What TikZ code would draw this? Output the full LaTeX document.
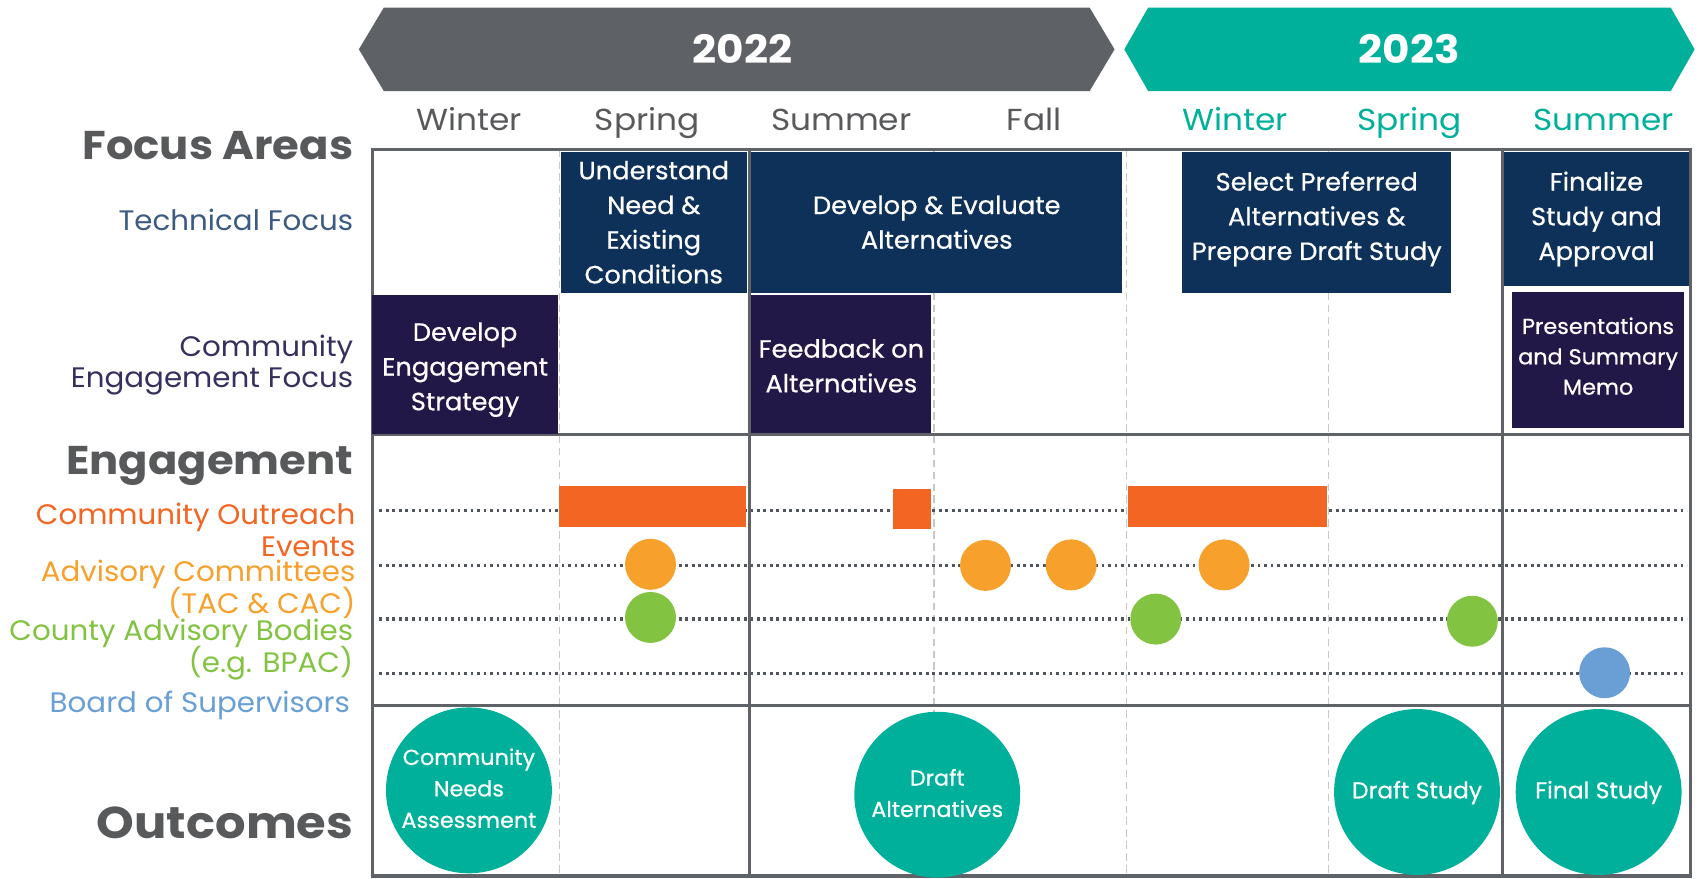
\documentclass[tikz,border=0pt]{standalone}
\usepackage{fontspec}
\setmainfont{Poppins}[FakeStretch=1.04]
\newfontfamily\medfont{Poppins}[FakeBold=0.6, FakeStretch=1.03]
\newfontfamily\widefont{Poppins}[FakeStretch=1.08]
\usetikzlibrary{shapes.geometric}
\definecolor{cgray}{HTML}{5E6166}
\definecolor{cteal}{HTML}{00B09B}
\definecolor{cnavy}{HTML}{0E3159}
\definecolor{cpurple}{HTML}{221848}
\definecolor{cgrid}{HTML}{5F6368}
\definecolor{cdash}{HTML}{C8C8C8}
\definecolor{cdot}{HTML}{50555B}
\definecolor{clabel}{HTML}{58595B}
\definecolor{ctech}{HTML}{3B5B82}
\definecolor{ccomm}{HTML}{35305E}
\definecolor{cout}{HTML}{F26522}
\definecolor{cadv}{HTML}{F7A12C}
\definecolor{cgreen}{HTML}{82C341}
\definecolor{cblue}{HTML}{6A9FD6}
\begin{document}
\begin{tikzpicture}[x=1pt,y=-1pt,
  yr/.style={font=\widefont\fontsize{36pt}{40pt}\selectfont\bfseries, text=white},
  season/.style={font=\widefont\fontsize{28pt}{32pt}\selectfont, anchor=base, inner sep=0pt},
  head/.style={font=\widefont\fontsize{37pt}{40pt}\selectfont\bfseries, text=clabel, anchor=base east, inner sep=0pt},
  lab/.style={font=\fontsize{26pt}{30pt}\selectfont, anchor=base east, inner sep=0pt},
  tbox/.style={fill=cnavy, text=white, align=center, inner sep=0pt, font=\medfont\fontsize{23pt}{32pt}\selectfont},
  cbox/.style={tbox, fill=cpurple},
  evbar/.style={fill=cout, inner sep=0pt},
  evdot/.style={circle, minimum size=47pt, inner sep=0pt},
  outc/.style={ellipse, fill=cteal, inner sep=0pt, minimum width=153pt, minimum height=153pt},
  otext/.style={text=white, align=center, inner sep=0pt, font=\medfont\fontsize{20pt}{29pt}\selectfont},
  gridline/.style={draw=cgrid, line width=3pt},
  vdash/.style={draw=cdash, line width=1.2pt, dash pattern=on 7pt off 4pt},
  rowdots/.style={draw=cdot, line width=3.2pt, dash pattern=on 2.6pt off 3.4pt},
]
\useasboundingbox (0,0) rectangle (1568,810);

% year banners
\fill[cgray] (331,45.5) -- (354,7) -- (1005,7) -- (1028,45.5) -- (1005,84) -- (354,84) -- cycle;
\node[yr] (y22) at (685,45.5) {2022};
\fill[cteal] (1037,45.5) -- (1059,7) -- (1541,7) -- (1563,45.5) -- (1541,84) -- (1059,84) -- cycle;
\node[yr] (y23) at (1300,45.5) {2023};

% seasons
\node[season, text=clabel] (s1) at (433,120) {Winter};
\node[season, text=clabel] (s2) at (597,120) {Spring};
\node[season, text=clabel] (s3) at (776,120) {Summer};
\node[season, text=clabel] (s4) at (954,120) {Fall};
\node[season, text=cteal] (s5) at (1139,120) {Winter};
\node[season, text=cteal] (s6) at (1300,120) {Spring};
\node[season, text=cteal] (s7) at (1479,120) {Summer};

% left labels
\node[head] (fa) at (326,147.5) {Focus Areas};
\node[lab, text=ctech] (tf) at (326,213) {Technical Focus};
\node[lab, text=ccomm] (cf1) at (326,328.5) {Community};
\node[lab, text=ccomm] (cf2) at (326,357) {Engagement Focus};
\node[head] (en) at (326,438) {Engagement};
\node[lab, text=cout] (co1) at (328,483.5) {Community Outreach};
\node[lab, text=cout] (co2) at (328,513) {Events};
\node[lab, text=cadv] (ac1) at (328,536) {Advisory Committees};
\node[lab, text=cadv] (ac2) at (328,566) {(TAC \& CAC)};
\node[lab, text=cgreen] (cb1) at (326,591) {County Advisory Bodies};
\node[lab, text=cgreen] (cb2) at (326,620) {(e.g. BPAC)};
\node[lab, text=cblue] (bs) at (323,657) {Board of Supervisors};
\node[head, font=\widefont\fontsize{41pt}{44pt}\selectfont\bfseries] (oc) at (326,773) {Outcomes};

% vertical dashed season lines
\foreach \x in {516,861.5,1039,1225.5} \draw[vdash] (\x,138) -- (\x,808);

% dotted engagement rows
\foreach \y/\n in {471/r1,521.5/r2,571/r3,621/r4} {
  \coordinate (\n a) at (350,\y);
  \coordinate (\n b) at (1556,\y);
  \draw[rowdots] (\n a) -- (\n b);
}

% solid grid
\foreach \y in {138,401,651,808} \draw[gridline] (342,\y) -- (1560.5,\y);
\foreach \x in {343.5,691,1385.5,1559} \draw[gridline] (\x,138) -- (\x,808);

% technical focus boxes
\node[tbox, minimum width=172pt, minimum height=130pt] (und) at (603,205) {Understand\\Need \&\\Existing\\Conditions};
\node[tbox, minimum width=342pt, minimum height=130pt] (dev) at (864,205) {Develop \& Evaluate\\Alternatives};
\node[tbox, minimum width=248pt, minimum height=130pt] (sel) at (1214.5,205) {};
\node[tbox] (selt) at (1214.5,202) {Select Preferred\\Alternatives \&\\Prepare Draft Study};
\node[tbox, minimum width=171pt, minimum height=124pt] (fin) at (1472.5,202) {Finalize\\Study and\\Approval};

% community engagement boxes
\node[cbox, minimum width=171pt, minimum height=128pt] (des) at (429,336) {};
\node[cbox] (dest) at (429,341) {Develop\\Engagement\\Strategy};
\node[cbox, minimum width=166pt, minimum height=127pt] (feed) at (776,335.5) {};
\node[cbox] (feedt) at (776,337.5) {Feedback on\\Alternatives};
\node[cbox, minimum width=158pt, minimum height=126pt] (pres) at (1474,332) {};
\node[cbox, font=\medfont\fontsize{20pt}{28pt}\selectfont] (prest) at (1474,328.5) {Presentations\\and Summary\\Memo};

% community outreach events
\node[evbar, minimum width=173pt, minimum height=38pt] (ev1) at (602,467) {};
\node[evbar, minimum width=35pt, minimum height=37pt] (ev2) at (841.5,469.5) {};
\node[evbar, minimum width=184pt, minimum height=38pt] (ev3) at (1132,467) {};

% advisory committees
\node[evdot, fill=cadv] (ad1) at (600,520.5) {};
\node[evdot, fill=cadv] (ad2) at (909,521.5) {};
\node[evdot, fill=cadv] (ad3) at (988,521) {};
\node[evdot, fill=cadv] (ad4) at (1129,521) {};

% county advisory bodies
\node[evdot, fill=cgreen] (gb1) at (600,569.5) {};
\node[evdot, fill=cgreen] (gb2) at (1066,571) {};
\node[evdot, fill=cgreen] (gb3) at (1358,573) {};

% board of supervisors
\node[evdot, fill=cblue] (bos) at (1480,620.5) {};

% outcomes
\node[outc] (o1) at (432.5,729) {};
\node[otext] (t1) at (432.5,727) {Community\\Needs\\Assessment};
\node[outc] (o2) at (864.5,733) {};
\node[otext] (t2) at (864.5,731.5) {Draft\\Alternatives};
\node[outc] (o3) at (1307,730.5) {};
\node[otext, font=\medfont\fontsize{21pt}{29pt}\selectfont] (t3) at (1307,731) {Draft Study};
\node[outc] (o4) at (1474.5,730.5) {};
\node[otext, font=\medfont\fontsize{21pt}{29pt}\selectfont] (t4) at (1474.5,731) {Final Study};
\end{tikzpicture}
\end{document}
